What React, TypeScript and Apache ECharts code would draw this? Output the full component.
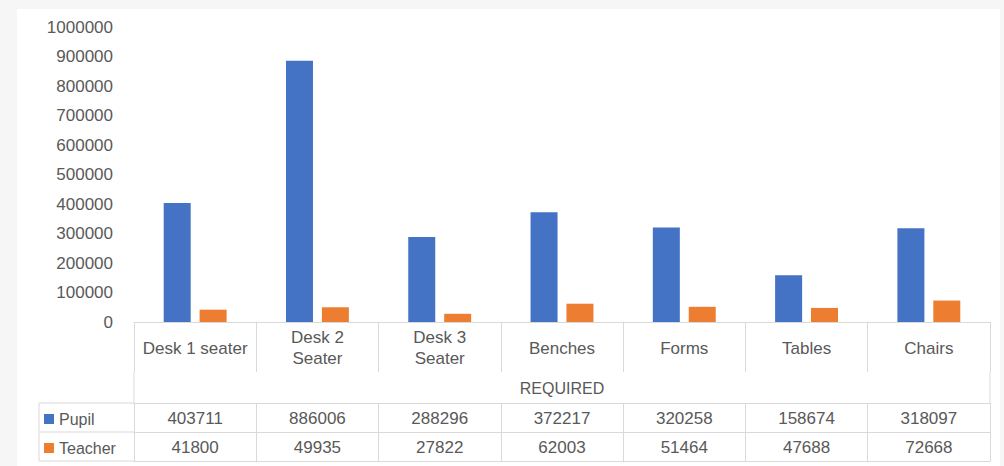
import React, { useEffect, useRef } from "react";
import * as echarts from "echarts";

const categories = ["Desk 1 seater", "Desk 2 Seater", "Desk 3 Seater", "Benches", "Forms", "Tables", "Chairs"];
const pupil = [403711, 886006, 288296, 372217, 320258, 158674, 318097];
const teacher = [41800, 49935, 27822, 62003, 51464, 47688, 72668];
const seriesNames = ["Pupil", "Teacher"];
const axisTitle = "REQUIRED";
const yMax = 1000000;
const yStep = 100000;

const W = 1004;
const H = 466;
const GL = 134;
const GR = 14;
const GT = 27;
const GB = 144;
const AXIS_Y = H - GB; // 322
const ROW1 = 403;
const ROW2 = 432;
const ROW3 = 461;
const LEG_X = 39;

const TXT = "#595959";
const LINE = "#d9d9d9";
const FONT = "Liberation Sans";

export default function App() {
  const ref = useRef<HTMLDivElement>(null);
  useEffect(() => {
    if (!ref.current) return;
    const chart = echarts.init(ref.current, null, { renderer: "svg" });
    const lineStyle = { color: LINE, width: 1 };
    const hline = (y: number) => ({ type: "line", shape: { x1: LEG_X, y1: y, x2: GL, y2: y }, style: { stroke: LINE, lineWidth: 1 }, silent: true });
    const vline = (x: number, y1: number, y2: number) => ({ type: "line", shape: { x1: x, y1, x2: x, y2 }, style: { stroke: LINE, lineWidth: 1 }, silent: true });
    const legendBase = {
      orient: "vertical",
      left: 44,
      padding: 0,
      itemWidth: 10,
      itemHeight: 10,
      icon: "rect",
      selectedMode: false,
      textStyle: { fontSize: 16, color: TXT, fontFamily: FONT },
    };
    chart.setOption({
      animation: false,
      backgroundColor: "#f6f6f6",
      textStyle: { fontFamily: FONT },
      color: ["#4472C4", "#ED7D31"],
      graphic: [
        { type: "rect", z: -10, shape: { x: 17, y: 9, width: W - 21, height: H - 9 }, style: { fill: "#ffffff" }, silent: true },
        hline(ROW1),
        hline(ROW2),
        hline(ROW3),
        vline(LEG_X, ROW1, ROW3),
        vline(GL, AXIS_Y + 50, ROW1),
        vline(W - GR, AXIS_Y + 50, ROW1),
      ],
      legend: [
        { ...legendBase, data: [seriesNames[0]], top: ROW1 + 8 },
        { ...legendBase, data: [seriesNames[1]], top: ROW2 + 8 },
      ],
      grid: { left: GL, right: GR, top: GT, bottom: GB, containLabel: false },
      xAxis: [
        {
          type: "category",
          data: categories,
          position: "bottom",
          axisLine: { show: true, lineStyle },
          axisTick: { show: true, length: 50, lineStyle },
          axisLabel: {
            color: TXT,
            fontSize: 17,
            fontFamily: FONT,
            lineHeight: 21,
            margin: 26,
            verticalAlign: "middle",
            interval: 0,
            formatter: (v: string) => v.replace(" Seater", "\nSeater"),
          },
          name: axisTitle,
          nameLocation: "middle",
          nameGap: 66,
          nameTextStyle: { color: TXT, fontSize: 16, fontFamily: FONT, verticalAlign: "middle" },
        },
        {
          type: "category",
          data: pupil.map(String),
          position: "bottom",
          offset: ROW1 - AXIS_Y,
          axisLine: { show: true, lineStyle },
          axisTick: { show: true, length: ROW3 - ROW1, lineStyle },
          axisLabel: { color: TXT, fontSize: 17, fontFamily: FONT, margin: 15, verticalAlign: "middle", interval: 0 },
        },
        {
          type: "category",
          data: teacher.map(String),
          position: "bottom",
          offset: ROW2 - AXIS_Y,
          axisLine: { show: true, lineStyle },
          axisTick: { show: false },
          axisLabel: { color: TXT, fontSize: 17, fontFamily: FONT, margin: 15, verticalAlign: "middle", interval: 0 },
        },
        {
          type: "category",
          data: categories,
          position: "bottom",
          offset: ROW3 - AXIS_Y,
          axisLine: { show: true, lineStyle },
          axisTick: { show: false },
          axisLabel: { show: false },
        },
      ],
      yAxis: {
        type: "value",
        min: 0,
        max: yMax,
        interval: yStep,
        axisLine: { show: false },
        axisTick: { show: false },
        splitLine: { show: false },
        axisLabel: { color: TXT, fontSize: 17, fontFamily: FONT, margin: 21, formatter: (v: number) => String(v) },
      },
      series: [
        { name: seriesNames[0], type: "bar", data: pupil, barWidth: 27, barGap: "33%", xAxisIndex: 0 },
        { name: seriesNames[1], type: "bar", data: teacher, barWidth: 27, barGap: "33%", xAxisIndex: 0 },
      ],
    });
    return () => chart.dispose();
  }, []);
  return <div ref={ref} style={{ position: "fixed", left: 0, top: 0, width: W, height: H }} />;
}
